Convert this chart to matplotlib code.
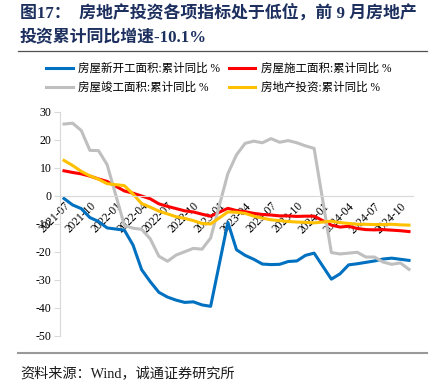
import numpy as np
import matplotlib
matplotlib.use('Agg')
import matplotlib.pyplot as plt

plt.rcParams['font.family'] = ['Liberation Serif', 'Noto Sans CJK SC', 'DejaVu Sans']
plt.rcParams['axes.unicode_minus'] = False

# 月份: 2021-07 ~ 2024-11, 1月无数据
months = ['2021-07', '2021-08', '2021-09', '2021-10', '2021-11', '2021-12',
          '2022-01', '2022-02', '2022-03', '2022-04', '2022-05', '2022-06',
          '2022-07', '2022-08', '2022-09', '2022-10', '2022-11', '2022-12',
          '2023-01', '2023-02', '2023-03', '2023-04', '2023-05', '2023-06',
          '2023-07', '2023-08', '2023-09', '2023-10', '2023-11', '2023-12',
          '2024-01', '2024-02', '2024-03', '2024-04', '2024-05', '2024-06',
          '2024-07', '2024-08', '2024-09', '2024-10', '2024-11']

xin_kai_gong = [-0.9, -3.2, -4.5, -7.7, -9.1, -11.4,
                None, -12.2, -17.5, -26.3, -30.6, -34.4,
                -36.1, -37.2, -38.0, -37.8, -38.9, -39.4,
                None, -9.4, -19.2, -21.2, -22.6, -24.3,
                -24.5, -24.4, -23.4, -23.2, -21.2, -20.4,
                None, -29.7, -27.8, -24.6, -24.2, -23.7,
                -23.2, -22.5, -22.2, -22.6, -23.0]
shi_gong = [9.0, 8.4, 7.9, 7.1, 6.1, 5.2,
            None, 1.8, 1.0, 0.0, -1.0, -2.8,
            -3.7, -4.5, -5.3, -5.7, -6.5, -7.2,
            None, -4.4, -5.2, -5.6, -6.2, -6.6,
            -6.8, -7.1, -7.1, -7.3, -7.2, -7.2,
            None, -10.4, -11.1, -10.8, -11.6, -12.0,
            -12.1, -12.0, -12.2, -12.4, -12.7]
jun_gong = [25.7, 26.0, 23.4, 16.3, 16.2, 11.2,
            None, -10.5, -11.5, -11.9, -15.3, -21.5,
            -23.3, -21.1, -19.9, -18.7, -19.0, -15.0,
            None, 8.0, 14.7, 18.8, 19.6, 19.0,
            20.5, 19.2, 19.8, 19.0, 17.9, 17.0,
            None, -20.2, -20.7, -20.4, -20.1, -21.8,
            -21.8, -23.6, -24.4, -23.9, -26.2]
tou_zi = [12.7, 10.9, 8.8, 7.2, 6.0, 4.4,
          None, 3.7, 0.7, -2.7, -4.0, -5.4,
          -6.4, -7.4, -8.0, -8.8, -9.8, -10.0,
          None, -5.7, -5.8, -6.2, -7.2, -7.9,
          -8.5, -8.8, -9.1, -9.3, -9.4, -9.6,
          None, -9.0, -9.5, -9.8, -10.1, -10.1,
          -10.2, -10.2, -10.1, -10.3, -10.4]

series = [
    ('房屋新开工面积:累计同比 %', xin_kai_gong, '#0070C0'),
    ('房屋施工面积:累计同比 %', shi_gong, '#FF0000'),
    ('房屋竣工面积:累计同比 %', jun_gong, '#BFBFBF'),
    ('房地产投资:累计同比 %', tou_zi, '#FFC000'),
]

W, H = 437, 389
fig = plt.figure(figsize=(W / 100, H / 100), dpi=100)

# 标题
title_color = '#1C2F5E'
fig.text(20 / W, 1 - 13 / H, '图17：  房地产投资各项指标处于低位，前 9 月房地产',
         fontsize=12.2, fontweight='bold', color=title_color, va='center', ha='left')
fig.text(20 / W, 1 - 38 / H, '投资累计同比增速-10.1%',
         fontsize=12.2, fontweight='bold', color=title_color, va='center', ha='left')
fig.add_artist(plt.Line2D([18 / W, 427 / W], [1 - 50.5 / H] * 2, color='#505050', lw=0.9))

ax = fig.add_axes([60 / W, 1 - 336 / H, 352.7 / W, 224 / H])
for s in ['top', 'right']:
    ax.spines[s].set_visible(False)
ax.spines['bottom'].set_position(('data', 0))
ax.spines['bottom'].set_color('#D9D9D9')
ax.spines['left'].set_color('#D9D9D9')

x = np.arange(len(months))
lines = []
for name, vals, color in series:
    y = np.array([np.nan if v is None else v for v in vals], dtype=float)
    ok = ~np.isnan(y)
    ln, = ax.plot(x[ok], y[ok], color=color, lw=2.2, label=name)
    lines.append(ln)

ax.set_xlim(-0.464, 40.43)
ax.set_ylim(-50, 30)
ax.set_yticks(np.arange(-50, 31, 10))
ax.set_xticks(x[::3])
ax.set_xticklabels(months[::3])
ax.tick_params(axis='x', length=0, pad=3, labelsize=8.3)
ax.tick_params(axis='y', length=4, color='#D9D9D9', labelsize=8.5, pad=2)
plt.setp(ax.get_xticklabels(), rotation=45, ha='right', va='top', rotation_mode='anchor')

# 图例按行排列
fig.legend(handles=[lines[0], lines[2], lines[1], lines[3]], loc='upper left',
           bbox_to_anchor=(46 / W, 1 - 63 / H),
           ncol=2, frameon=False, fontsize=8.3, borderpad=0, borderaxespad=0,
           handlelength=2.3, handletextpad=0.45, columnspacing=0.8, labelspacing=0.6)

# 底部
fig.add_artist(plt.Line2D([18 / W, 427 / W], [1 - 352.5 / H] * 2, color='#999999', lw=1.5))
fig.text(20 / W, 1 - 373 / H, '资料来源：Wind，诚通证券研究所', fontsize=10.2,
         color='#1a1a1a', va='center', ha='left')

fig.savefig('out.png', dpi=100)
